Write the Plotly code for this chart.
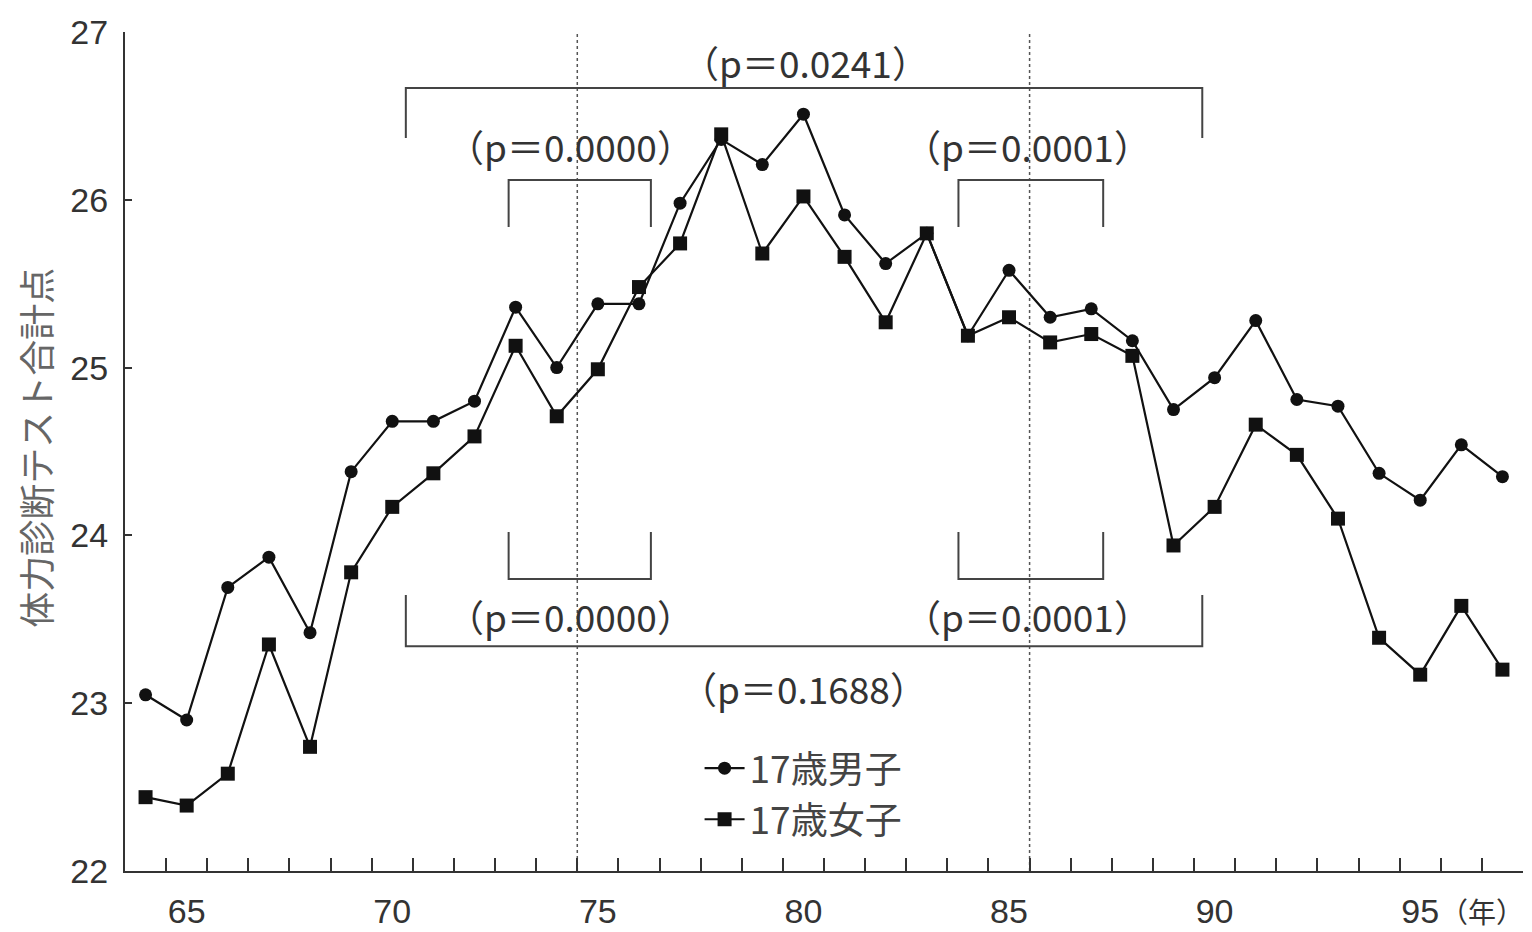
import plotly.graph_objects as go

# ---------------- data ----------------
years = list(range(64, 98))
male_17 = [23.05, 22.90, 23.69, 23.87, 23.42, 24.38, 24.68, 24.68, 24.80, 25.36,
           25.00, 25.38, 25.38, 25.98, 26.36, 26.21, 26.51, 25.91, 25.62, 25.80,
           25.19, 25.58, 25.30, 25.35, 25.16, 24.75, 24.94, 25.28, 24.81, 24.77,
           24.37, 24.21, 24.54, 24.35]
female_17 = [22.44, 22.39, 22.58, 23.35, 22.74, 23.78, 24.17, 24.37, 24.59, 25.13,
             24.71, 24.99, 25.48, 25.74, 26.39, 25.68, 26.02, 25.66, 25.27, 25.80,
             25.19, 25.30, 25.15, 25.20, 25.07, 23.94, 24.17, 24.66, 24.48, 24.10,
             23.39, 23.17, 23.58, 23.20]
series_names = ["17歳男子", "17歳女子"]
x_tick_values = [65, 70, 75, 80, 85, 90, 95]
x_tick_labels = ["65", "70", "75", "80", "85", "90", "95"]
y_tick_values = [22, 23, 24, 25, 26, 27]
y_title = "体力診断テスト合計点"
x_unit = "（年）"
period_dividers = [74.5, 85.5]
p_labels = ["（p＝0.0241）", "（p＝0.0000）", "（p＝0.0001）",
            "（p＝0.0000）", "（p＝0.0001）", "（p＝0.1688）"]

# bracket decorations: (x0, x1, y_bar, y_tip, label_x, label_y, label_index)
brackets = [
    (70.33, 89.70, 26.666, 26.368, 80.05, 26.82, 0),
    (72.83, 76.29, 26.118, 25.838, 74.34, 26.32, 1),
    (83.77, 87.29, 26.118, 25.838, 85.45, 26.32, 2),
    (72.83, 76.29, 23.740, 24.020, 74.34, 23.52, 3),
    (83.77, 87.29, 23.740, 24.020, 85.45, 23.52, 4),
    (70.33, 89.70, 23.340, 23.645, 80.00, 23.09, 5),
]

JP = "Noto Sans CJK JP"
NUM = "Liberation Sans"
INK = "#111111"
AX = "#333333"

fig = go.Figure()
fig.add_trace(go.Scatter(
    x=years, y=male_17, name=series_names[0], mode="lines+markers",
    line=dict(color=INK, width=2.2), legendgroup="m",
    marker=dict(symbol="circle", size=13, color=INK)))
fig.add_trace(go.Scatter(
    x=years, y=female_17, name=series_names[1], mode="lines+markers",
    line=dict(color=INK, width=2.2), legendgroup="f",
    marker=dict(symbol="square", size=14, color=INK)))

shapes = []
for xv in period_dividers:
    shapes.append(dict(type="line", xref="x", yref="paper", x0=xv, x1=xv, y0=0, y1=1,
                       line=dict(color="#555555", width=1.5, dash="dot"), layer="below"))

annotations = []
for (x0, x1, yb, yt, lx, ly, li) in brackets:
    shapes.append(dict(type="path", xref="x", yref="y",
                       path=f"M {x0},{yt} L {x0},{yb} L {x1},{yb} L {x1},{yt}",
                       line=dict(color="#444444", width=2)))
    annotations.append(dict(x=lx, y=ly, xref="x", yref="y", text=p_labels[li],
                            showarrow=False, font=dict(family=JP, size=37, color="#333333")))

annotations.append(dict(x=-0.064, y=0.504, xref="paper", yref="paper", text=y_title,
                        textangle=-90, showarrow=False, xanchor="center", yanchor="middle",
                        font=dict(family=JP, size=36, color="#666666")))
annotations.append(dict(x=0.971, y=-0.048, xref="paper", yref="paper", text=x_unit,
                        showarrow=False, xanchor="center", yanchor="middle",
                        font=dict(family=JP, size=28, color="#333333")))

# the page body adds an 8px offset, so the figure is slightly smaller than the window
fig.update_layout(
    width=1524, height=924,
    margin=dict(l=117, r=9, t=24, b=61, autoexpand=False),
    paper_bgcolor="white", plot_bgcolor="white",
    showlegend=True,
    legend=dict(x=0.411, y=0.159, xanchor="left", yanchor="top",
                font=dict(family=JP, size=37, color="#444444"),
                bgcolor="rgba(0,0,0,0)", tracegroupgap=0, itemwidth=40),
    shapes=shapes, annotations=annotations,
    xaxis=dict(range=[63.5, 97.5], showgrid=False, zeroline=False, automargin=False,
               showline=True, linecolor=AX, linewidth=2,
               tickmode="array", tickvals=x_tick_values, ticktext=x_tick_labels,
               ticks="inside", ticklen=0, tickcolor="rgba(0,0,0,0)",
               ticklabelstandoff=9,
               tickfont=dict(family=NUM, size=34, color="#333333"),
               minor=dict(tick0=64.5, dtick=1, ticks="inside", ticklen=13,
                          tickcolor=AX, tickwidth=1.5, showgrid=False)),
    yaxis=dict(range=[22, 27], showgrid=False, zeroline=False, automargin=False,
               showline=True, linecolor=AX, linewidth=2,
               tickmode="array", tickvals=y_tick_values,
               ticks="inside", ticklen=7, tickcolor=AX, tickwidth=1.5,
               ticklabelstandoff=8,
               tickfont=dict(family=NUM, size=34, color="#333333")),
)

fig.write_html("out.html")
